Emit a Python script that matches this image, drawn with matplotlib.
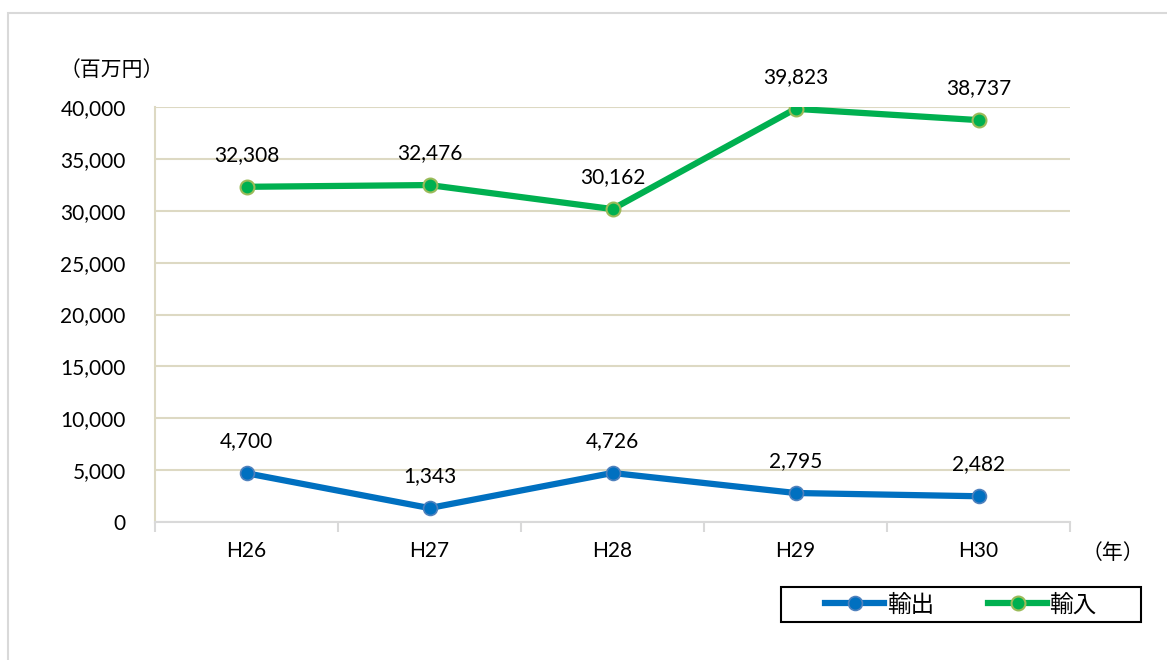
import matplotlib
matplotlib.use('Agg')
import matplotlib.pyplot as plt
from matplotlib.patches import Rectangle

plt.rcParams['font.family'] = ['Lato', 'Noto Sans CJK JP']

years = ['H26', 'H27', 'H28', 'H29', 'H30']
exports = [4700, 1343, 4726, 2795, 2482]
imports = [32308, 32476, 30162, 39823, 38737]
yticks = [0, 5000, 10000, 15000, 20000, 25000, 30000, 35000, 40000]

fig = plt.figure(figsize=(11.67, 6.6), dpi=100)
# outer chart border
fig.patches.append(Rectangle((8 / 1167, -0.1), 1.2, 1 - 13 / 660 + 0.1,
                             transform=fig.transFigure, fill=False,
                             edgecolor='#d9d9d9', linewidth=1.5))

ax = fig.add_axes([155 / 1167, 1 - 522 / 660, 915 / 1167, 415 / 660])
x = list(range(len(years)))

ax.plot(x, exports, color='#0070c0', linewidth=4.5, marker='o', markersize=10,
        markerfacecolor='#0070c0', markeredgecolor='#4f81bd', markeredgewidth=1.2,
        label='輸出', zorder=3)
ax.plot(x, imports, color='#00b050', linewidth=4.5, marker='o', markersize=10,
        markerfacecolor='#00b050', markeredgecolor='#9bbb59', markeredgewidth=1.5,
        label='輸入', zorder=3)

# data labels above the points
for xi, v in zip(x, exports):
    ax.annotate(f'{v:,}', (xi, v), xytext=(0, 23), textcoords='offset points',
                ha='center', va='center', fontsize=15)
for xi, v in zip(x, imports):
    ax.annotate(f'{v:,}', (xi, v), xytext=(0, 23), textcoords='offset points',
                ha='center', va='center', fontsize=15)

ax.set_xlim(-0.5, len(years) - 0.5)
ax.set_ylim(0, 40000)
ax.set_yticks(yticks)
ax.set_yticklabels([f'{t:,}' for t in yticks], fontsize=15)
ax.set_xticks(x)
ax.set_xticklabels(years, fontsize=15)
ax.set_xticks([i - 0.5 for i in range(len(years) + 1)], minor=True)
ax.tick_params(axis='y', length=0, pad=21)
ax.tick_params(axis='x', which='major', length=0, pad=14)
ax.tick_params(axis='x', which='minor', length=7, color='#d9d9d9', width=1.5)

ax.grid(axis='y', color='#ddd9c3', linewidth=1.5)
ax.set_axisbelow(True)
for s in ['top', 'right']:
    ax.spines[s].set_visible(False)
ax.spines['left'].set_color('#ddd9c3')
ax.spines['left'].set_linewidth(1.5)
ax.spines['bottom'].set_color('#d9d9d9')
ax.spines['bottom'].set_linewidth(1.5)

fig.text(60 / 1167, 1 - 70 / 660, '（百万円）', fontsize=15, va='center', ha='left')
fig.text(1082 / 1167, 1 - 553 / 660, '（年）', fontsize=15, va='center', ha='left')

# legend with a separately drawn box
fig.patches.append(Rectangle((781 / 1167, 1 - 622 / 660), 360 / 1167, 35 / 660,
                             transform=fig.transFigure, fill=False,
                             edgecolor='black', linewidth=1.5))
leg = fig.legend(loc='center', bbox_to_anchor=(961 / 1167, 1 - 604.5 / 660), ncol=2,
                 fontsize=17, frameon=False, handlelength=2.5,
                 handletextpad=0.1, columnspacing=2.3, borderpad=0,
                 borderaxespad=0)

fig.savefig('out.png', dpi=100)
